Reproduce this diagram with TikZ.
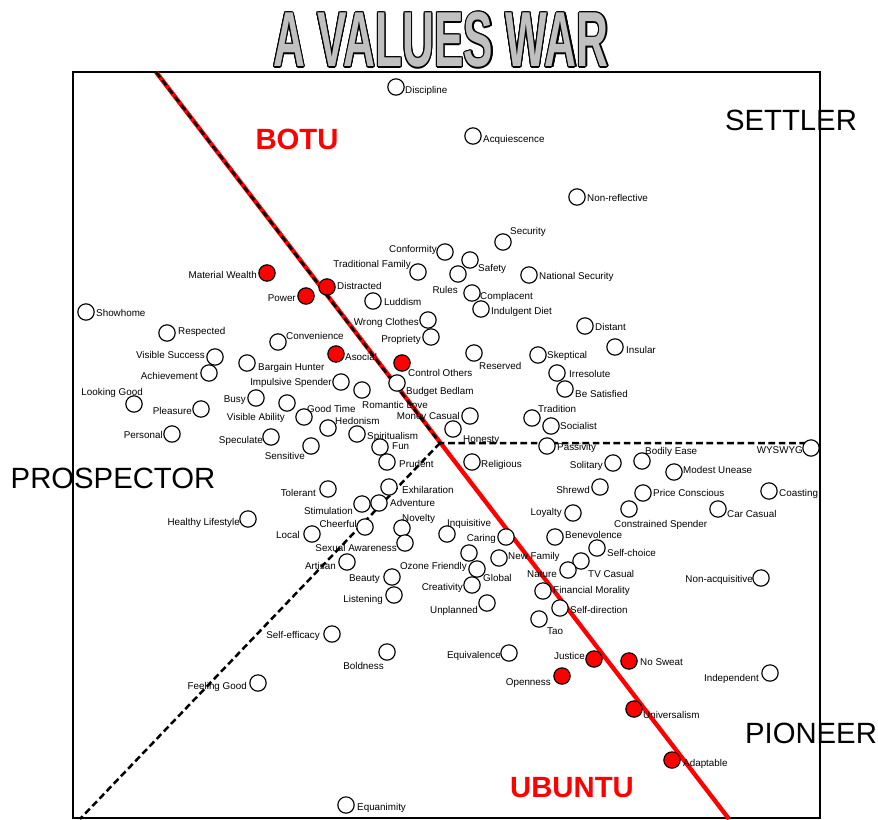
\documentclass[tikz,border=0pt]{standalone}
\usepackage{fontspec}
\setmainfont{Liberation Sans}
\usepackage{graphicx}
\definecolor{titlegray}{RGB}{192,192,192}
\tikzset{
  val/.style={circle,draw,line width=.35mm,fill=white,minimum size=4.9mm,inner sep=0pt},
  hot/.style={val,fill=red},
  lbl/.style={inner sep=0pt,font=\fontsize{8.4}{10}\selectfont},
  tr/.style={anchor=mid west},
  tl/.style={anchor=mid east},
  camp/.style={font=\fontsize{25}{30}\selectfont},
  tribe/.style={text=red,font=\fontsize{25}{30}\selectfont\bfseries},
  heading/.style={inner sep=0pt,font=\fontsize{66.6}{70}\selectfont\bfseries},
  split/.style={line width=.75mm,dash pattern=on 2mm off 1.1mm},
}
\newcommand\valuestitle{\scalebox{.566}[1]{A VALUES WAR}}
\begin{document}
\begin{tikzpicture}[x=.3mm,y=-.3mm]
\useasboundingbox (0,0) rectangle (878,819);
\foreach \a in {0,30,...,330}
    \node[heading] (t\a) at ([shift={(\a:1.3)}]441,40) {\valuestitle};
\node[heading,text=titlegray] (title) at (441,40) {\valuestitle};
\draw[line width=.6mm] (73,72) rectangle (820,818);
\coordinate (top) at (156,72);
\coordinate (hub) at (440,443);
\coordinate (foot) at (729,819);
\coordinate (rim) at (820,443);
\coordinate (sw) at (80,819);
\draw[red,line width=1.3mm] (top)--(foot);
\draw[split] (top)--(hub)--(rim);
\draw[split] (hub)--(sw);
\foreach \x/\y/\t/\lx/\ly/\a [count=\i] in {
  396/87/Discipline/405/90/tr, 473/136/Acquiescence/483/139/tr,
  577/197/Non-reflective/587/198/tr, 503/242/Security/510/231/tr,
  445/252/Conformity/437/249/tl, 418/272/Traditional Family/411/264/tl,
  470/260/Safety/478/268/tr, 458/274/Rules/458/290/tl,
  472/293/Complacent/480/296/tr, 481/309/Indulgent Diet/491/311/tr,
  529/275/National Security/539/276/tr, 373/301/Luddism/384/302/tr,
  428/320/Wrong Clothes/419/322/tl, 431/337/Propriety/421/339/tl,
  474/353/Reserved/479/366/tr, 538/355/Skeptical/547/355/tr,
  585/326/Distant/595/327/tr, 615/347/Insular/626/350/tr,
  557/373/Irresolute/569/374/tr, 565/389/Be Satisfied/575/394/tr,
  397/383/Budget Bedlam/406/391/tr, 362/390/Romantic Love/362/405/tr,
  470/416/Money Casual/460/416/tl, 453/429/Honesty/463/439/tr,
  532/418/Tradition/538/409/tr, 551/426/Socialist/560/426/tr,
  328/428/Hedonism/335/421/tr, 357/434/Spiritualism/367/436/tr,
  304/417/Good Time/307/409/tr, 287/403/Visible Ability/285/417/tl,
  256/398/Busy/246/399/tl, 341/382/Impulsive Spender/332/382/tl,
  247/363/Bargain Hunter/258/367/tr, 278/342/Convenience/286/336/tr,
  86/312/Showhome/96/313/tr, 167/333/Respected/178/331/tr,
  215/357/Visible Success/205/355/tl, 209/373/Achievement/198/376/tl,
  134/404/Looking Good/143/392/tl, 201/409/Pleasure/192/411/tl,
  172/434/Personal/163/435/tl, 271/437/Speculate/263/440/tl,
  311/446/Sensitive/305/456/tl, 380/447/Fun/392/446/tr,
  387/462/Prudent/399/464/tr, 472/462/Religious/481/464/tr,
  547/446/Passivity/557/447/tr, 613/463/Solitary/603/465/tl,
  642/461/Bodily Ease/645/451/tr, 811/448/WYSWYG/803/450/tl,
  674/472/Modest Unease/683/470/tr, 643/493/Price Conscious/653/493/tr,
  769/491/Coasting/779/493/tr, 718/509/Car Casual/727/514/tr,
  629/509/Constrained Spender/614/524/tr, 600/487/Shrewd/590/490/tl,
  573/513/Loyalty/562/512/tl, 555/537/Benevolence/565/535/tr,
  597/548/Self-choice/607/553/tr, 581/561/TV Casual/588/574/tr,
  568/570/Nature/557/574/tl, 543/591/Financial Morality/553/590/tr,
  560/608/Self-direction/570/610/tr, 539/619/Tao/547/631/tr,
  506/537/Caring/496/538/tl, 499/558/New Family/508/556/tr,
  447/534/Inquisitive/447/523/tr, 469/553/Ozone Friendly/467/566/tl,
  477/569/Global/483/578/tr, 472/585/Creativity/463/587/tl,
  487/603/Unplanned/478/610/tl, 402/528/Novelty/402/518/tr,
  405/543/Sexual Awareness/397/548/tl, 389/487/Exhilaration/402/490/tr,
  379/503/Adventure/390/503/tr, 362/504/Stimulation/353/511/tl,
  365/527/Cheerful/357/524/tl, 328/489/Tolerant/316/493/tl,
  248/519/Healthy Lifestyle/240/522/tl, 312/534/Local/300/535/tl,
  347/562/Artisan/336/566/tl, 392/577/Beauty/380/578/tl,
  394/595/Listening/383/599/tl, 332/634/Self-efficacy/320/635/tl,
  387/652/Boldness/384/666/tl, 258/683/Feeling Good/247/686/tl,
  346/805/Equanimity/357/807/tr, 509/653/Equivalence/501/655/tl,
  770/673/Independent/759/678/tl, 761/578/Non-acquisitive/753/579/tl}
{
    \node[val] (w\i) at (\x,\y) {};
    \node[lbl,\a] (lw\i) at (\lx,\ly) {\t};
}
\foreach \x/\y/\t/\lx/\ly/\a [count=\i] in {
  267/273/Material Wealth/257/275/tl, 327/287/Distracted/337/286/tr,
  306/296/Power/296/298/tl, 336/354/Asocial/345/357/tr,
  402/363/Control Others/408/373/tr, 594/659/Justice/585/656/tl,
  629/661/No Sweat/640/662/tr, 562/676/Openness/551/682/tl,
  634/709/Universalism/643/715/tr, 672/760/Adaptable/683/763/tr}
{
    \node[hot] (r\i) at (\x,\y) {};
    \node[lbl,\a] (lr\i) at (\lx,\ly) {\t};
}
\node[camp] (settler) at (791,120) {SETTLER};
\node[camp] (prospector) at (113,478) {PROSPECTOR};
\node[camp] (pioneer) at (811,733) {PIONEER};
\node[tribe] (botu) at (297,139) {BOTU};
\node[tribe] (ubuntu) at (572,788) {UBUNTU};
\end{tikzpicture}
\end{document}
